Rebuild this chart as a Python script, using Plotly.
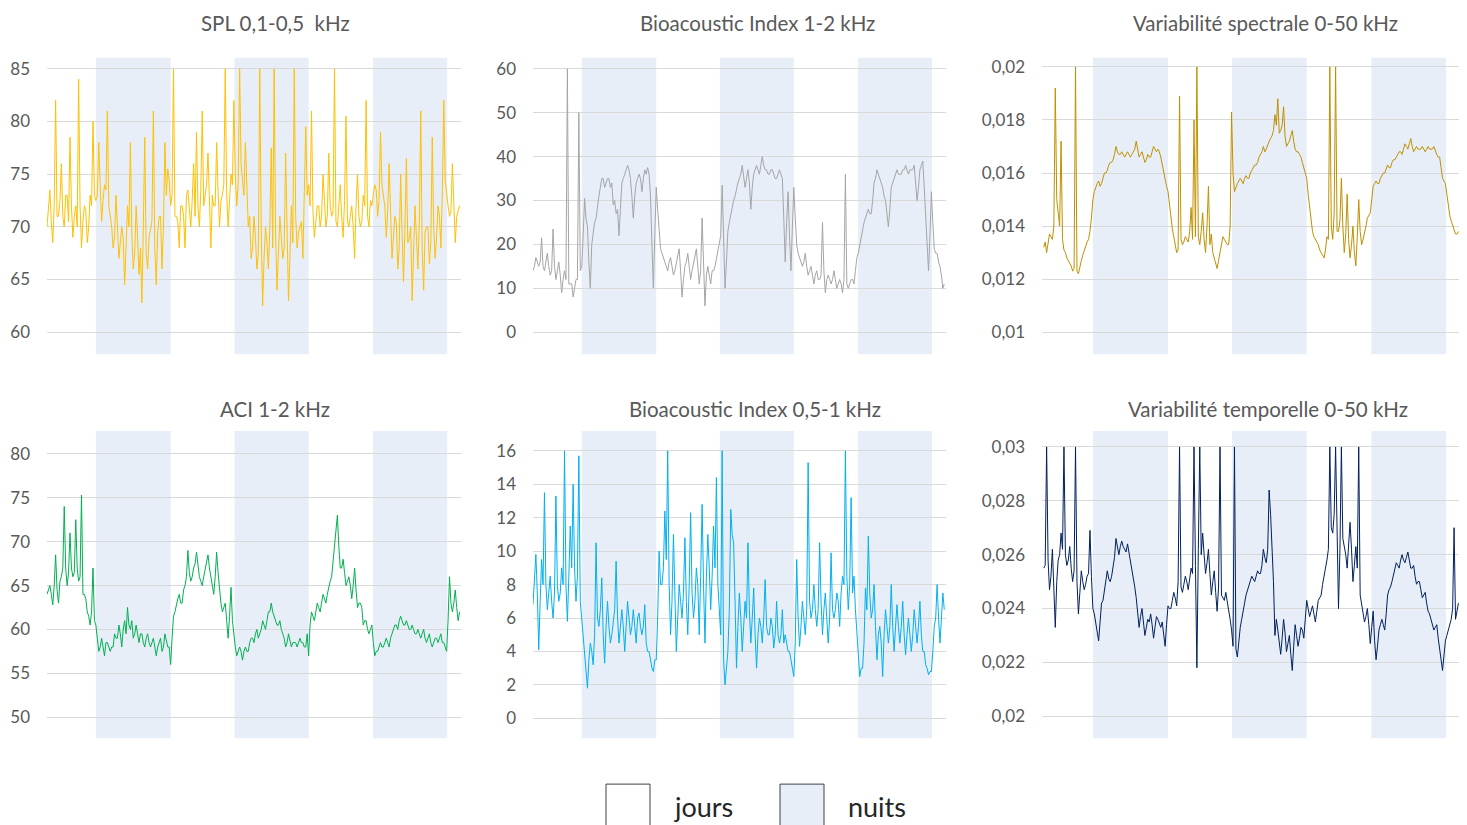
import plotly.graph_objects as go

# ---------------- data ----------------
# samples every 15 min over ~72 h: "a" values at the full half-hours, "_mid" values in between
time_h = [i * 0.25 for i in range(288)]

night_start = [8.5, 32.6, 56.7]
night_end = [21.5, 45.5, 69.6]

spl = [70, 73.5, 68.5, 82, 71, 76, 70, 73, 78.5, 69, 72, 84, 68, 72, 68.5, 73, 80,
       72.5, 78, 70.5, 74, 81, 71, 68, 73, 67, 70, 64.5, 72, 78, 66, 72, 65.5, 62.8, 78.5,
       66, 70, 81, 64.5, 71, 66, 78, 75.5, 72, 85, 71, 68, 72, 68, 73.5, 70, 76, 79, 70,
       81, 73, 77, 68, 72, 78, 70, 73, 85, 70, 75, 82, 72, 85, 74, 78, 70, 67, 71, 66, 85,
       62.5, 70, 66, 77.5, 85, 64, 71, 67, 77, 63, 72, 85, 68, 70, 67, 79.5, 74, 81, 69,
       72, 70, 75, 70, 77, 71, 85, 70, 74, 69, 80.5, 70, 72, 67, 75, 70, 73, 82, 70, 72,
       74, 71, 79, 73, 69, 76, 67, 71, 66, 75, 64.8, 76.5, 69, 63, 72, 66, 81, 64, 70,
       66.5, 78.5, 67, 72, 68, 82, 73, 71, 76, 68.5, 71.5]
spl_mid = [71.5, 70.5, 72, 71, 72.5, 71, 73, 70.5, 72, 71, 70, 72, 70.5, 71.5, 70, 72, 73,
           73, 74, 72.5, 73.5, 72, 70,
           69, 70.5, 68.5, 69, 68, 70, 69.5, 67.5, 69, 68, 70, 67.5, 69, 70.5, 68, 69.5, 71, 70, 73,
           74.5, 73,
           71, 70.5, 72, 71, 73, 71.5, 72.5, 71, 72, 73.5, 72, 74, 72.5, 73, 72, 73.5, 72.5, 74, 73, 72.5, 74,
           75, 74, 76, 73, 74.5, 71,
           68, 69, 67.5, 70, 67, 68.5, 70, 68, 69.5, 67.5, 69, 68, 70, 67, 68.5, 71, 69.5, 70.5, 72, 73,
           72, 71.5, 70.5, 72, 71, 72.5, 71, 72, 71.5, 70.5, 72, 71, 72.5, 70.5, 71, 70, 72, 71, 70.5, 72, 71, 72.5, 73,
           73.5, 72.5, 74, 72, 71.5, 70,
           69, 70.5, 68, 69.5, 70, 68.5, 70, 67.5, 69, 70.5, 68, 69.5, 70, 68.5, 70, 69, 71, 73, 74.5,
           72, 71.5, 72, 71, 72]

bio_1_2 = [14, 17, 15, 21.5, 14, 18, 13, 23.5, 12, 16, 9, 14, 60, 11, 8, 12, 50, 15, 30.5,
           24, 10, 23, 26, 31, 35, 33, 35, 33, 29, 27, 22, 34, 36, 38, 35, 26, 34, 36, 32,
           37, 37.5, 31, 10, 33, 22, 18, 16, 14, 17, 13, 16, 19, 8, 15, 18, 12, 16, 19, 11,
           26, 6, 15, 11, 14, 17, 20, 33.5, 10, 23, 27, 30, 33, 35, 38, 33, 37, 28, 36, 38,
           36, 40, 37, 36, 37, 36, 35, 37, 35, 16, 32, 14, 33, 20, 17, 15, 18, 13, 15, 11,
           14, 12, 25, 9, 13, 11, 14, 10, 12, 9, 36, 10, 12, 11, 17, 20, 24, 26, 28, 27, 34,
           37, 35, 33, 30, 24, 33, 35, 37, 36, 37, 38, 36, 37, 38, 30, 37, 39, 27, 14, 32,
           19, 18, 15, 10]
bio_1_2_mid = [15, 16, 16, 15, 16, 15, 14, 15, 14, 13, 12, 12, 11, 11, 10, 12, 14,
               22, 26, 16, 20, 25, 29,
               33, 35, 34, 35, 34, 30, 28, 28, 35, 37, 37, 31, 31, 35, 35, 35, 36, 36, 20, 22, 28,
               19, 17, 15, 16, 15, 14, 17, 14, 12, 16, 15, 14, 17, 15, 14, 16, 13, 13, 14, 15, 18, 22,
               20, 16, 25, 28, 31, 34, 36, 36, 35, 34, 33, 37, 37, 38, 38, 37, 36, 37, 35, 36, 36, 26, 25, 22, 24, 26,
               18, 16, 16, 15, 14, 13, 13, 12, 13, 14, 12, 12, 12, 12, 11, 11, 12, 11, 11, 12, 14,
               18, 22, 25, 27, 27, 30, 35, 36, 34, 31, 27, 28, 34, 36, 36, 36, 37, 37, 37, 37, 34, 33, 38, 33,
               20, 22, 25, 18, 16, 13, 11]

var_spec = [0.0132, 0.0130, 0.0137, 0.0135, 0.0192, 0.0146, 0.0172, 0.0131, 0.0128, 0.0126,
            0.0123, 0.0200, 0.0122, 0.0127, 0.0131, 0.0134, 0.0138, 0.0150, 0.0155, 0.0157,
            0.0156, 0.0160, 0.0161, 0.0164, 0.0165, 0.0170, 0.0167, 0.0168, 0.0166, 0.0168,
            0.0166, 0.0168, 0.0172, 0.0166, 0.0168, 0.0164, 0.0167, 0.0166, 0.0170, 0.0168,
            0.0168, 0.0163, 0.0157, 0.0153, 0.0143, 0.0136, 0.0130, 0.0189, 0.0133, 0.0136,
            0.0134, 0.0147, 0.0180, 0.0200, 0.0133, 0.0145, 0.0130, 0.0155, 0.0137, 0.0128,
            0.0124, 0.0130, 0.0136, 0.0134, 0.0133, 0.0183, 0.0153, 0.0156, 0.0158, 0.0156,
            0.0159, 0.0158, 0.0161, 0.0163, 0.0164, 0.0167, 0.0170, 0.0169, 0.0172, 0.0174,
            0.0182, 0.0188, 0.0176, 0.0185, 0.0170, 0.0172, 0.0176, 0.0169, 0.0168, 0.0166,
            0.0162, 0.0158, 0.0147, 0.0138, 0.0135, 0.0133, 0.0130, 0.0128, 0.0136, 0.0200,
            0.0135, 0.0200, 0.0138, 0.0158, 0.0130, 0.0152, 0.0128, 0.0140, 0.0125, 0.0150,
            0.0133, 0.0137, 0.0143, 0.0145, 0.0155, 0.0157, 0.0156, 0.0159, 0.0160, 0.0163,
            0.0162, 0.0165, 0.0166, 0.0168, 0.0167, 0.0171, 0.0169, 0.0173, 0.0168, 0.0170,
            0.0169, 0.0170, 0.0168, 0.0170, 0.0169, 0.0170, 0.0167, 0.0166, 0.0158, 0.0156,
            0.0147, 0.0142, 0.0138, 0.0137]
var_spec_mid = [0.0134, 0.0133, 0.0136, 0.0140, 0.0150, 0.0140, 0.0135, 0.0130, 0.0127, 0.0125, 0.0124,
                0.0123, 0.0125, 0.0129, 0.0132, 0.0135, 0.0143,
                0.0153, 0.0156, 0.0155, 0.0158, 0.0160, 0.0163, 0.0164, 0.0167, 0.0168, 0.0167,
                0.0167, 0.0167, 0.0167, 0.0167, 0.0169, 0.0169, 0.0167, 0.0166, 0.0165, 0.0166,
                0.0168, 0.0169, 0.0169, 0.0166, 0.0160, 0.0155, 0.0148,
                0.0139, 0.0133, 0.0131, 0.0135, 0.0134, 0.0135, 0.0138, 0.0135, 0.0136, 0.0136,
                0.0138, 0.0135, 0.0140, 0.0133, 0.0130, 0.0126, 0.0127, 0.0133, 0.0135, 0.0133,
                0.0140, 0.0160,
                0.0155, 0.0157, 0.0157, 0.0158, 0.0158, 0.0160, 0.0162, 0.0163, 0.0166, 0.0168,
                0.0168, 0.0171, 0.0173, 0.0176, 0.0178, 0.0175, 0.0178, 0.0174, 0.0171, 0.0174,
                0.0172, 0.0168, 0.0167, 0.0164, 0.0160, 0.0152,
                0.0142, 0.0136, 0.0134, 0.0131, 0.0129, 0.0131, 0.0135, 0.0140, 0.0145, 0.0138,
                0.0142, 0.0140, 0.0137, 0.0135, 0.0133, 0.0130, 0.0136, 0.0138, 0.0135, 0.0140,
                0.0144, 0.0150,
                0.0156, 0.0156, 0.0158, 0.0160, 0.0162, 0.0162, 0.0164, 0.0165, 0.0167, 0.0168,
                0.0169, 0.0170, 0.0171, 0.0170, 0.0169, 0.0169, 0.0169, 0.0169, 0.0169, 0.0169,
                0.0169, 0.0168, 0.0166, 0.0162, 0.0157, 0.0152, 0.0144, 0.0140, 0.0137, 0.0138]

aci_1_2 = [64, 65, 62.8, 68.5, 63, 66, 74, 65, 71, 66, 72.5, 65.5, 75.3, 64, 62, 60.5, 67,
           60.5, 57.5, 59, 57, 58.5, 57.5, 58, 59, 60.5, 58, 61, 62.5, 60, 59, 60.5, 58.5,
           59.5, 58, 59.5, 58, 59, 57, 58.5, 57.5, 59.5, 58, 56, 61.5, 63, 64, 63, 65, 69,
           65.5, 67, 68.8, 66, 65, 67, 68.5, 66, 64, 68.8, 64.5, 62, 63, 59, 64.8, 59, 57,
           58, 56.5, 58, 57.5, 59, 58.5, 60, 59.5, 61, 60, 62, 63, 61.5, 60.5, 61, 59.5, 58,
           59.5, 58, 58.5, 58, 59, 58.5, 58, 57, 62, 61, 63, 62, 64, 63, 65, 66, 70, 73, 67,
           68, 65, 66, 63.5, 67, 62.5, 63, 60.5, 61, 59.5, 60.5, 57, 57.5, 58.5, 58, 59, 58,
           59.5, 60.5, 60, 61.5, 60.5, 61, 60, 60.5, 59.5, 60, 59, 60, 58.5, 59.5, 58, 59,
           58.5, 59.5, 58.5, 57.5, 66, 62, 64.5, 61]
aci_1_2_mid = [64.5, 64, 65, 64.5, 65.5, 67, 67, 66.5, 67, 66.5, 67, 66, 64, 63.5, 61.5, 62, 61,
               59, 58, 58, 58.5, 58, 58, 59.5, 59, 59.5, 60, 59.5, 60.5, 61, 59.5, 59.5, 59.5,
               58.5, 59, 58.5, 58.5, 58, 58, 59, 58, 58.5, 58, 59,
               62, 63.5, 63, 64.5, 66, 66.5, 66, 67.5, 67, 65.5, 66, 67.5, 67, 65, 66, 66.5, 63,
               62.5, 61, 61.5, 61,
               58, 57.5, 57.5, 57.5, 57.5, 58.5, 59, 59.5, 59, 60, 60.5, 61, 62, 62, 61, 60.5, 60,
               59, 58.5, 58.5, 58.5, 58.5, 58.5, 58.5, 58, 59.5, 60.5,
               61.5, 62, 62.5, 63, 63.5, 64, 65.5, 68, 71, 69.5, 67, 66.5, 65.5, 65, 65, 64.5, 63,
               62.5, 61, 60, 60, 58.5,
               57.5, 58, 58, 58.5, 58.5, 59, 60, 60.5, 61, 61, 60.5, 60.5, 60, 60, 59.5, 59.5,
               59.5, 59, 59, 58.5, 58.5, 59, 59, 58.5, 58, 61, 63, 63, 62.5, 62]

bio_05_1 = [6.8, 9.8, 4.1, 9.5, 13.5, 6.5, 8.5, 6, 13.3, 7, 9, 16, 5.8, 11.5, 14, 7, 15.7,
            6, 3.5, 1.8, 4.5, 3.2, 10.5, 5.5, 8.4, 3.3, 7, 4.5, 6, 9.4, 4.5, 6.5, 4, 7, 5,
            6.5, 4.5, 6.3, 5, 6.8, 4, 3.5, 2.8, 3.5, 10, 8, 12.4, 16, 5, 11, 4, 8, 6, 10.8,
            5, 12.3, 6, 9, 5, 12.8, 4.5, 11, 6.5, 11.5, 14.4, 6, 16, 2, 4, 12.5, 10.5, 3,
            7.5, 4, 7, 10.5, 4.5, 7.8, 3, 6, 4.5, 8.3, 5, 6, 4.2, 7, 4.5, 6.5, 5, 4, 3.5,
            2.5, 9.5, 4.3, 7, 5, 15.3, 6, 8, 5.5, 10.5, 5, 7.5, 4.5, 9.9, 6, 7.5, 5.5, 8.5,
            16, 6.5, 13.2, 8.5, 5, 2.5, 3, 7.8, 10.9, 6, 8, 3.5, 5.5, 2.5, 6.5, 4.5, 8, 4,
            6.8, 4.5, 7, 3.8, 6, 4, 6.5, 4.5, 7, 4, 3.2, 2.6, 2.8, 5.5, 8, 4.5, 7.5]
bio_05_1_mid = [8, 7.5, 7, 8, 8, 7.5, 7, 7.5, 8, 7.5, 8, 8, 8.5, 9, 9, 8.5, 7,
                4.5, 3, 3.5, 4, 5, 6, 6.5, 5, 5.5, 5.5, 5, 6.5, 6, 5.5, 5.5, 5.5, 6, 5.5, 5.5,
                6, 5.5, 5.5, 4.5, 4, 3, 3.5, 6,
                8, 9, 9.5, 8, 7, 6.5, 6, 7, 7.5, 7, 8, 7.5, 7, 8, 8.5, 8, 8.5, 9, 8.5, 9, 8,
                5, 3.5, 3, 6.5, 11, 7, 5.5, 6, 5.5, 6, 6.5, 6, 5, 5, 5.5, 6, 5.5, 5, 5.5, 5,
                5, 5, 4.5, 4.5, 4, 3, 4.5,
                6, 5.5, 6, 6.5, 7, 6.5, 6.5, 6.5, 7, 6.5, 6, 6, 6.5, 6.5, 7, 7.5, 8, 8.5, 8,
                7.5, 6.5, 4,
                3, 4.5, 6.5, 7.5, 6.5, 5.5, 5, 4.5, 5, 5.5, 5.5, 5.5, 5.5, 5.5, 5.5, 5, 5, 5,
                5, 5.5, 5.5, 5, 4, 3, 2.8, 4, 6, 6, 6, 6.5]

var_temp = [0.0255, 0.0300, 0.0247, 0.0262, 0.0233, 0.0258, 0.0268, 0.0300, 0.0256, 0.0263,
            0.0250, 0.0300, 0.0238, 0.0254, 0.0247, 0.0252, 0.0269, 0.0240, 0.0234, 0.0228,
            0.0242, 0.0247, 0.0254, 0.0250, 0.0256, 0.0266, 0.0260, 0.0265, 0.0262, 0.0264,
            0.0257, 0.0252, 0.0244, 0.0233, 0.0240, 0.0230, 0.0236, 0.0238, 0.0229, 0.0237,
            0.0234, 0.0235, 0.0226, 0.0241, 0.0240, 0.0246, 0.0241, 0.0300, 0.0246, 0.0252,
            0.0247, 0.0255, 0.0300, 0.0218, 0.0300, 0.0268, 0.0253, 0.0262, 0.0245, 0.0254,
            0.0239, 0.0300, 0.0244, 0.0246, 0.0240, 0.0232, 0.0300, 0.0222, 0.0233, 0.0240,
            0.0245, 0.0249, 0.0252, 0.0250, 0.0254, 0.0253, 0.0262, 0.0257, 0.0284, 0.0265,
            0.0230, 0.0232, 0.0223, 0.0236, 0.0224, 0.0230, 0.0217, 0.0234, 0.0226, 0.0233,
            0.0229, 0.0243, 0.0237, 0.0241, 0.0235, 0.0243, 0.0245, 0.0253, 0.0258, 0.0300,
            0.0268, 0.0300, 0.0240, 0.0300, 0.0263, 0.0255, 0.0272, 0.0250, 0.0263, 0.0300,
            0.0241, 0.0235, 0.0240, 0.0227, 0.0239, 0.0221, 0.0232, 0.0236, 0.0232, 0.0245,
            0.0248, 0.0252, 0.0257, 0.0255, 0.0260, 0.0257, 0.0261, 0.0255, 0.0256, 0.0249,
            0.0250, 0.0244, 0.0246, 0.0239, 0.0236, 0.0232, 0.0234, 0.0224, 0.0217, 0.0228,
            0.0232, 0.0236, 0.0270, 0.0240]
var_temp_mid = [0.0256, 0.0258, 0.0252, 0.0250, 0.0250, 0.0260, 0.0262, 0.0260, 0.0258, 0.0255,
                0.0254, 0.0250, 0.0246, 0.0250, 0.0249, 0.0253, 0.0252,
                0.0238, 0.0232, 0.0235, 0.0243, 0.0250, 0.0251, 0.0252, 0.0259, 0.0262, 0.0263,
                0.0263, 0.0261, 0.0261, 0.0254, 0.0248, 0.0238, 0.0237, 0.0235, 0.0233, 0.0235,
                0.0234, 0.0233, 0.0236, 0.0233, 0.0231, 0.0234, 0.0240,
                0.0243, 0.0244, 0.0250, 0.0248, 0.0249, 0.0250, 0.0251, 0.0253, 0.0256, 0.0262,
                0.0260, 0.0260, 0.0257, 0.0253, 0.0250, 0.0246, 0.0248, 0.0245, 0.0243, 0.0243,
                0.0236,
                0.0226, 0.0225, 0.0228, 0.0236, 0.0242, 0.0247, 0.0251, 0.0251, 0.0252, 0.0253,
                0.0256, 0.0259, 0.0262, 0.0275, 0.0250, 0.0236, 0.0228, 0.0229, 0.0231, 0.0227,
                0.0223, 0.0226, 0.0230, 0.0229, 0.0232, 0.0236, 0.0240,
                0.0239, 0.0238, 0.0239, 0.0244, 0.0249, 0.0255, 0.0262, 0.0270, 0.0275, 0.0265,
                0.0262, 0.0266, 0.0260, 0.0262, 0.0262, 0.0256, 0.0255, 0.0245, 0.0238, 0.0237,
                0.0234, 0.0233,
                0.0228, 0.0226, 0.0234, 0.0234, 0.0238, 0.0247, 0.0250, 0.0254, 0.0256, 0.0258,
                0.0258, 0.0259, 0.0258, 0.0255, 0.0252, 0.0250, 0.0247, 0.0245, 0.0242, 0.0238,
                0.0234, 0.0233, 0.0229, 0.0221, 0.0222, 0.0230, 0.0234, 0.0240, 0.0236, 0.0242]

titles = ["SPL 0,1-0,5  kHz", "Bioacoustic Index 1-2 kHz", "Variabilité spectrale 0-50 kHz",
          "ACI 1-2 kHz", "Bioacoustic Index 0,5-1 kHz", "Variabilité temporelle 0-50 kHz"]

ticks_spl = [60, 65, 70, 75, 80, 85]
ticks_bio12 = [0, 10, 20, 30, 40, 50, 60]
ticks_spec = [0.010, 0.012, 0.014, 0.016, 0.018, 0.020]
ticks_spec_txt = ["0,01", "0,012", "0,014", "0,016", "0,018", "0,02"]
ticks_aci = [50, 55, 60, 65, 70, 75, 80]
ticks_bio051 = [0, 2, 4, 6, 8, 10, 12, 14, 16]
ticks_temp = [0.020, 0.022, 0.024, 0.026, 0.028, 0.030]
ticks_temp_txt = ["0,02", "0,022", "0,024", "0,026", "0,028", "0,03"]

legend_labels = ["jours", "nuits"]


def merge(a, a_mid):
    assert len(a) == 144 and len(a_mid) == 144, (len(a), len(a_mid))
    out = []
    for v, m in zip(a, a_mid):
        out.extend([v, m])
    return out


series = [merge(spl, spl_mid), merge(bio_1_2, bio_1_2_mid), merge(var_spec, var_spec_mid),
          merge(aci_1_2, aci_1_2_mid), merge(bio_05_1, bio_05_1_mid), merge(var_temp, var_temp_mid)]

# ---------------- styling / layout ----------------
W, H = 1467, 825
TXT = "#595959"
GRID = "#D9D9D9"
NIGHT = "#E7EEF8"
FONT = "Lato"

colors = ["#FFC000", "#A5A5A5", "#BF9000", "#00B050", "#00B0F0", "#002060"]
col_px = [(47, 461), (533, 946), (1042, 1459)]
col_xr = [[0, 72.0], [0, 72.05], [-0.3, 71.85]]
row_px = [(56, 353), (430, 738)]
y_ranges = [[57.92, 86.04], [-5, 62.5], [0.009173, 0.02034],
            [47.61, 82.61], [-1.19, 17.19], [0.019185, 0.030593]]
tickv = [ticks_spl, ticks_bio12, ticks_spec, ticks_aci, ticks_bio051, ticks_temp]
tickt = [[str(v) for v in ticks_spl], [str(v) for v in ticks_bio12], ticks_spec_txt,
         [str(v) for v in ticks_aci], [str(v) for v in ticks_bio051], ticks_temp_txt]
title_cx = [275, 757, 1265, 275, 755, 1268]
title_cy = [21.5, 21.5, 21.5, 408, 408, 408]

fig = go.Figure()
layout = dict(width=W, height=H, margin=dict(l=0, r=0, t=0, b=0),
              paper_bgcolor="white", plot_bgcolor="rgba(0,0,0,0)",
              showlegend=False, font=dict(family=FONT, color=TXT))
shapes = []
annotations = []

for k in range(6):
    r, c = divmod(k, 3)
    ax = "" if k == 0 else str(k + 1)
    x0, x1 = col_px[c]
    y0, y1 = row_px[r]
    layout["xaxis" + ax] = dict(domain=[x0 / W, x1 / W], range=col_xr[c],
                                showgrid=False, zeroline=False, showticklabels=False,
                                showline=False, ticks="", anchor="y" + ax)
    layout["yaxis" + ax] = dict(domain=[1 - y1 / H, 1 - y0 / H], range=y_ranges[k],
                                tickvals=tickv[k], ticktext=tickt[k],
                                showgrid=True, gridcolor=GRID, gridwidth=1,
                                zeroline=False, showline=False, ticks="",
                                ticklabelstandoff=16,
                                tickfont=dict(size=17, color=TXT, family=FONT),
                                anchor="x" + ax)
    fig.add_trace(go.Scatter(x=time_h, y=series[k], mode="lines",
                             line=dict(color=colors[k], width=1),
                             xaxis="x" + ax, yaxis="y" + ax, hoverinfo="skip"))
    for ns, ne in zip(night_start, night_end):
        shapes.append(dict(type="rect", xref="x" + ax, yref="y" + ax + " domain",
                           x0=ns, x1=ne, y0=0, y1=1, fillcolor=NIGHT,
                           line=dict(width=0), layer="below"))
    annotations.append(dict(text=titles[k], x=title_cx[k] / W, y=1 - title_cy[k] / H,
                            xref="paper", yref="paper", xanchor="center", yanchor="middle",
                            showarrow=False, font=dict(size=20.5, color=TXT, family=FONT)))

legend_fill = ["white", NIGHT]
legend_box_x = [606, 780]
legend_txt_x = [672, 846]
for lbl, fill, bx, tx in zip(legend_labels, legend_fill, legend_box_x, legend_txt_x):
    shapes.append(dict(type="rect", xref="paper", yref="paper",
                       x0=bx / W, x1=(bx + 44) / W, y0=-0.02, y1=1 - 784 / H,
                       fillcolor=fill, line=dict(color="#404040", width=1)))
    annotations.append(dict(text=lbl, x=tx / W, y=1 - 806 / H, xref="paper", yref="paper",
                            xanchor="left", yanchor="middle", showarrow=False,
                            font=dict(size=27, color="#262626", family=FONT)))

layout["shapes"] = shapes
layout["annotations"] = annotations
fig.update_layout(**layout)
fig.write_html("out.html")
